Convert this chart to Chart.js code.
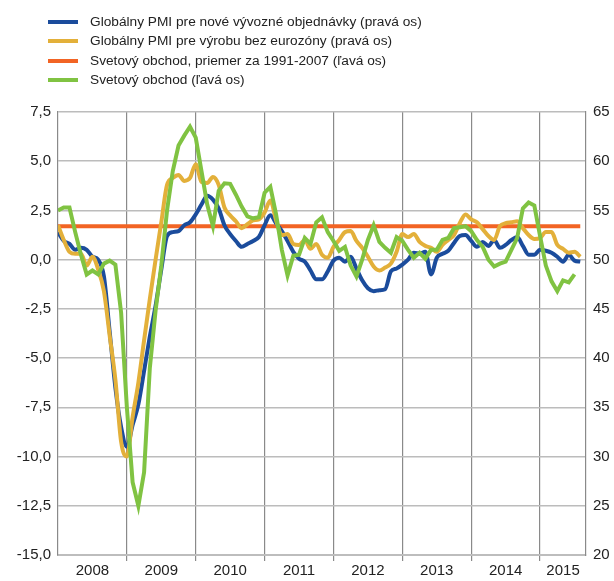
<!DOCTYPE html>
<html>
<head>
<meta charset="utf-8">
<script src="https://cdn.jsdelivr.net/npm/chart.js@4.4.1/dist/chart.umd.min.js"></script>
<style>
  html, body { margin: 0; padding: 0; background: #fff; }
  #wrap { position: relative; width: 614px; height: 581px; }
  #legend { position: absolute; left: 48px; top: 12px; font-family: "Liberation Sans", Arial, sans-serif; font-size: 13.7px; color: #222; }
  .row { position: relative; height: 19.3px; line-height: 19.3px; white-space: nowrap; }
  .sw { position: absolute; left: 0; top: 8px; width: 30px; height: 4px; }
  .tx { position: absolute; left: 42px; top: 0; }
</style>
</head>
<body>
<div id="wrap">
  <canvas id="c" width="614" height="581"></canvas>
  <div id="legend"></div>
</div>
<script>
// Months since Jan 2008 (0 = Jan 2008)
const yearLabels = ["2008","2009","2010","2011","2012","2013","2014","2015"];
const seriesNames = [
  "Globálny PMI pre nové vývozné objednávky (pravá os)",
  "Globálny PMI pre výrobu bez eurozóny (pravá os)",
  "Svetový obchod, priemer za 1991-2007 (ľavá os)",
  "Svetový obchod (ľavá os)"
];
const seriesColors = ["#1b4c9c", "#e3b03a", "#f26424", "#80c342"];

// Global PMI new export orders (right axis), monthly from Jan 2008
const pmiExport = [
  52.8, 51.9, 51.6, 51.0, 51.2, 51.0, 50.3, 50.0, 48.3, 42.7, 37.0, 33.0,
  31.0, 33.2, 35.3, 38.7, 42.2, 45.3, 49.0, 52.4, 52.8, 52.9, 53.5, 53.8,
  54.6, 55.6, 56.5, 56.1, 55.2, 53.5, 52.6, 51.9, 51.3, 51.6, 51.9, 52.3,
  53.5, 54.5, 53.7, 52.9, 51.9, 50.8, 50.1, 49.8, 48.9, 48.0, 48.0, 48.8,
  49.9, 50.2, 49.8, 50.3, 49.1, 47.9, 47.1, 46.8, 46.9, 47.0, 48.8, 49.1,
  49.5, 50.0, 50.7, 50.6, 50.8, 48.5, 50.2, 50.6, 50.9, 51.7, 52.4, 52.5,
  51.9, 51.3, 51.8, 51.4, 52.0, 51.2, 51.5, 52.0, 52.3, 51.4, 50.5, 50.5,
  51.0, 50.9, 50.7, 50.3, 49.8, 50.5, 49.9, 49.8
];
// Global manufacturing PMI excl. euro area (right axis)
const pmiMfg = [
  53.5, 52.0, 50.8, 50.6, 50.6, 49.4, 50.3, 49.0, 46.8, 42.3, 37.8, 31.5,
  30.0, 34.0, 37.5, 41.8, 46.0, 50.0, 53.8, 57.6, 58.3, 58.6, 58.0, 58.3,
  59.7, 57.9, 57.8, 58.4, 57.6, 55.3, 54.5, 53.9, 53.2, 53.6, 54.0, 54.1,
  54.8, 56.0, 54.0, 52.5, 52.6, 51.6, 51.5, 52.0, 51.1, 51.6, 50.5, 50.2,
  51.3, 52.0, 52.8, 52.9, 51.9, 51.2, 50.3, 49.3, 48.9, 49.2, 49.6, 50.8,
  52.6, 52.3, 52.6, 51.8, 51.4, 51.2, 50.8, 51.5, 52.0, 52.5, 53.7, 54.6,
  54.1, 53.8, 53.1, 52.4, 52.0, 53.4, 53.7, 53.8, 53.9, 53.2, 52.5, 52.1,
  52.2, 52.8, 52.8, 51.5, 51.1, 50.7, 50.8, 50.3
];
// World trade (left axis)
const worldTrade = [
  2.5, 2.65, 2.65, 1.4, 0.25, -0.75, -0.55, -0.75, -0.2, -0.05, -0.25, -2.7,
  -7.5, -11.3, -12.5, -10.8, -5.5, -2.6, -0.3, 2.5, 4.5, 5.8, 6.3, 6.75,
  6.2, 4.5, 2.8, 1.7, 3.5, 3.88, 3.85, 3.3, 2.7, 2.2, 2.1, 2.15,
  3.4, 3.7, 2.3, 0.5, -0.8, 0.2, 0.25, 1.1, 0.8, 1.9, 2.15, 1.4,
  0.95, 0.45, 0.65, -0.3, -0.85, 0.0, 1.0, 1.75, 0.9, 0.6, 0.35, 1.15,
  0.95, 0.5, 0.1, 0.35, 0.05, 0.5, 0.5, 1.0, 1.1, 1.6, 1.65, 1.7,
  1.45, 1.0, 0.65, 0.0, -0.35, -0.2, -0.1, 0.5, 1.1, 2.6, 2.9, 2.75,
  1.2, -0.3, -1.1, -1.6, -1.05, -1.15, -0.75
];
// World trade average 1991-2007 (left axis)
const tradeAvgValue = 1.7;
const tradeAvgSpan = [0, 91];

const leftTicks = [-15, -12.5, -10, -7.5, -5, -2.5, 0, 2.5, 5, 7.5];
const rightTicks = [20, 25, 30, 35, 40, 45, 50, 55, 60, 65];

const toXY = arr => arr.map((v, i) => ({ x: i, y: v }));

// HTML legend
const leg = document.getElementById('legend');
seriesNames.forEach((n, i) => {
  const r = document.createElement('div'); r.className = 'row';
  const s = document.createElement('span'); s.className = 'sw'; s.style.background = seriesColors[i];
  const t = document.createElement('span'); t.className = 'tx'; t.textContent = n;
  r.appendChild(s); r.appendChild(t); leg.appendChild(r);
});

const font = { family: '"Liberation Sans", Arial, sans-serif', size: 15 };
const xMax = 92;
const labelPos = { 6: 0, 18: 1, 30: 2, 42: 3, 54: 4, 66: 5, 78: 6, 88: 7 };

new Chart(document.getElementById('c'), {
  type: 'line',
  data: {
    datasets: [
      { label: seriesNames[3], data: toXY(worldTrade), yAxisID: 'yL', borderColor: seriesColors[3], borderWidth: 4, tension: 0, pointRadius: 0, order: 0 },
      { label: seriesNames[1], data: toXY(pmiMfg), yAxisID: 'yR', borderColor: seriesColors[1], borderWidth: 4, tension: 0.4, cubicInterpolationMode: 'monotone', pointRadius: 0, order: 1 },
      { label: seriesNames[0], data: toXY(pmiExport), yAxisID: 'yR', borderColor: seriesColors[0], borderWidth: 4, tension: 0.4, cubicInterpolationMode: 'monotone', pointRadius: 0, order: 2 },
      { label: seriesNames[2], data: tradeAvgSpan.map(x => ({ x: x, y: tradeAvgValue })), yAxisID: 'yL', borderColor: seriesColors[2], borderWidth: 4, tension: 0, pointRadius: 0, order: 3 }
    ]
  },
  options: {
    responsive: false,
    animation: false,
    devicePixelRatio: 1,
    layout: { padding: { top: 112, left: 0, right: 0, bottom: 0 } },
    plugins: { legend: { display: false }, tooltip: { enabled: false } },
    scales: {
      x: {
        type: 'linear', min: 0, max: xMax,
        afterFit: s => { s.height = 26; },
        afterBuildTicks: s => {
          const t = [];
          for (let v = 0; v <= 84; v += 6) t.push({ value: v });
          t.push({ value: 88 }); t.push({ value: 92 });
          s.ticks = t;
        },
        ticks: {
          autoSkip: false, maxRotation: 0, padding: 1, color: '#222', font: font,
          callback: v => (labelPos[v] !== undefined ? yearLabels[labelPos[v]] : '')
        },
        grid: {
          color: c => (c.tick && c.tick.value % 12 === 0 && c.tick.value > 0 && c.tick.value < 92) ? '#8a8a8a' : 'rgba(0,0,0,0)',
          lineWidth: 1.2, tickLength: 6
        },
        border: { color: '#bdbdbd', width: 2 }
      },
      yL: {
        type: 'linear', position: 'left', min: -15, max: 7.5,
        afterFit: s => { s.width = 58; },
        afterBuildTicks: s => { s.ticks = leftTicks.map(v => ({ value: v })); },
        ticks: { padding: 7, color: '#222', font: font, callback: v => v.toFixed(1).replace('.', ',') },
        grid: { color: '#bcbcbc', lineWidth: 1.6, drawTicks: false },
        border: { color: '#8a8a8a', width: 1.2 }
      },
      yR: {
        type: 'linear', position: 'right', min: 20, max: 65,
        afterFit: s => { s.width = 28; },
        afterBuildTicks: s => { s.ticks = rightTicks.map(v => ({ value: v })); },
        ticks: { padding: 7, color: '#222', font: font, callback: v => String(v) },
        grid: { drawOnChartArea: false, drawTicks: false },
        border: { color: '#8a8a8a', width: 1.2 }
      }
    }
  }
});
</script>
</body>
</html>
